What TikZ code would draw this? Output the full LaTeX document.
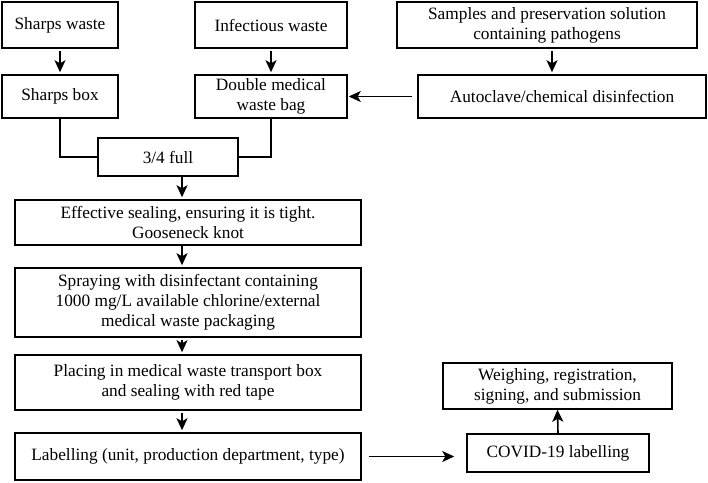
\documentclass[tikz,border=0pt]{standalone}
\usepackage{fontspec}
\setmainfont{Liberation Serif}
\usetikzlibrary{arrows.meta}
\begin{document}
\begin{tikzpicture}[x=1pt,y=-1pt,
  box/.style={draw=black, line width=1.5pt, align=center, inner sep=0pt,
    font=\fontsize{17.3}{20}\selectfont},
  arr/.style={line width=1.6pt, -{Stealth[length=12pt,width=11pt,inset=3pt]}},
  conn/.style={line width=1.6pt}]
\useasboundingbox (0,0) rectangle (708,482);
\node[box, minimum width=116pt, minimum height=46pt] (sw) at (60,25) {Sharps waste};
\node[box, minimum width=116pt, minimum height=43pt] (sb) at (60,96.5) {Sharps box};
\node[box, minimum width=152pt, minimum height=46pt] (iw) at (271,25) {Infectious waste};
\node[box, minimum width=152pt, minimum height=43pt] (db) at (271,96.5) {Double medical\\waste bag};
\node[box, minimum width=300pt, minimum height=46pt] (sp) at (547,25) {Samples and preservation solution\\containing pathogens};
\node[box, minimum width=288pt, minimum height=43pt] (ac) at (562,96.5) {Autoclave/chemical disinfection};
\node[box, minimum width=140pt, minimum height=38pt] (half) at (168,157) {3/4 full};
\node[box, minimum width=346pt, minimum height=45pt] (es) at (188,222.5) {Effective sealing, ensuring it is tight.\\Gooseneck knot};
\node[box, minimum width=346pt, minimum height=69pt] (spr) at (188,302.5) {Spraying with disinfectant containing\\1000 mg/L available chlorine/external\\medical waste packaging};
\node[box, minimum width=346pt, minimum height=55pt] (pl) at (188,382.5) {Placing in medical waste transport box\\and sealing with red tape};
\node[box, minimum width=346pt, minimum height=47pt] (lab) at (188,456.5) {Labelling (unit, production department, type)};
\node[box, minimum width=229pt, minimum height=46pt] (wg) at (557.5,386) {Weighing, registration,\\signing, and submission};
\node[box, minimum width=182pt, minimum height=38pt] (cv) at (558,453) {COVID-19 labelling};
\coordinate (ax) at (182,0);
\coordinate (sx) at (552,0);
\draw[arr, shorten <=2pt, shorten >=2pt] (sw) -- (sb);
\draw[arr, shorten <=2pt, shorten >=2pt] (iw) -- (db);
\draw[arr, shorten <=2pt, shorten >=2pt] (sp.south -| sx) -- (ac.north -| sx);
\draw[arr, shorten <=5pt, shorten >=1pt] (ac.west) -- (db.east |- ac.west);
\draw[conn] (sb.south) |- (half.west);
\draw[conn] (db.south) |- (half.east);
\draw[arr, shorten >=2pt] (half.south -| ax) -- (es.north -| ax);
\draw[arr, shorten >=2pt] (es.south -| ax) -- (spr.north -| ax);
\draw[arr, shorten <=2pt, shorten >=2pt] (spr.south -| ax) -- (pl.north -| ax);
\draw[arr, shorten <=2pt, shorten >=2pt] (pl.south -| ax) -- (lab.north -| ax);
\draw[arr, shorten <=7pt, shorten >=12pt] (lab.east) -- (cv.west |- lab.east);
\draw[arr] (cv.north) -- (wg.south);
\end{tikzpicture}
\end{document}
